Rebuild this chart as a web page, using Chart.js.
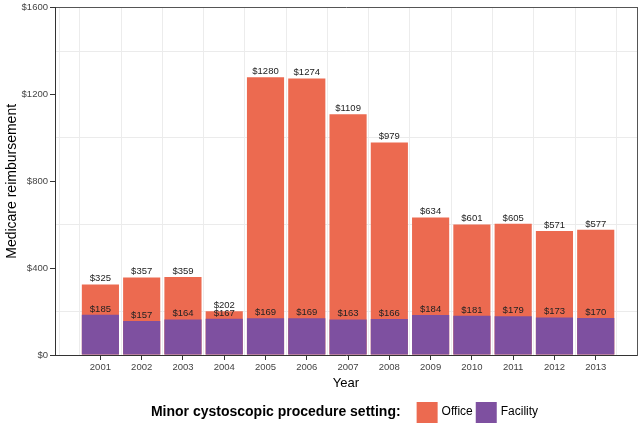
<!DOCTYPE html>
<html>
<head>
<meta charset="utf-8">
<script src="https://cdn.jsdelivr.net/npm/chart.js@4"></script>
<style>
  body { margin: 0; background: #fff; }
  #wrap { width: 640px; height: 423px; }
</style>
</head>
<body>
<div id="wrap"><canvas id="myChart" width="640" height="423"></canvas></div>
<script>
const years = [2001, 2002, 2003, 2004, 2005, 2006, 2007, 2008, 2009, 2010, 2011, 2012, 2013];
const office = [325, 357, 359, 202, 1280, 1274, 1109, 979, 634, 601, 605, 571, 577];
const facility = [185, 157, 164, 167, 169, 169, 163, 166, 184, 181, 179, 173, 170];
const yTicks = [0, 400, 800, 1200, 1600];
const legendTitle = 'Minor cystoscopic procedure setting:';

const FONT = "'Liberation Sans', Arial, sans-serif";
const officeColor = '#EC6A50';
const facilityColor = '#7E50A0';

// half-year positions for the vertical grid
const xGrid = [2000];
years.forEach(y => xGrid.push(y - 0.5));
xGrid.push(years[years.length - 1] + 0.5);

const barLabels = {
	id: 'barLabels',
	afterDatasetsDraw(chart) {
		const ctx = chart.ctx;
		ctx.save();
		ctx.font = '9.5px ' + FONT;
		ctx.fillStyle = '#222';
		ctx.textAlign = 'center';
		ctx.textBaseline = 'bottom';
		chart.data.datasets.forEach((ds, i) => {
			chart.getDatasetMeta(i).data.forEach((bar, j) => {
				ctx.fillText('$' + ds.data[j].y, bar.x, bar.y - 1);
			});
		});
		ctx.restore();
	}
};

const legendRow = {
	id: 'legendRow',
	afterDraw(chart) {
		const ctx = chart.ctx;
		const area = chart.chartArea;
		const y = 412;
		ctx.save();
		ctx.textBaseline = 'middle';
		ctx.font = 'bold 14px ' + FONT;
		const tw = ctx.measureText(legendTitle).width;
		ctx.font = '12px ' + FONT;
		const items = chart.data.datasets.map(ds => ({ label: ds.label, color: ds.backgroundColor, w: ctx.measureText(ds.label).width }));
		let total = tw + 16;
		items.forEach(it => { total += 21 + 4 + it.w + 3; });
		let x = (area.left + area.right) / 2 - total / 2;
		ctx.fillStyle = '#000';
		ctx.font = 'bold 14px ' + FONT;
		ctx.fillText(legendTitle, x, y);
		x += tw + 16;
		ctx.font = '12px ' + FONT;
		items.forEach(it => {
			ctx.fillStyle = it.color;
			ctx.fillRect(x, y - 10, 21, 21);
			x += 21 + 4;
			ctx.fillStyle = '#000';
			ctx.fillText(it.label, x, y);
			x += it.w + 3;
		});
		ctx.restore();
	}
};

new Chart(document.getElementById('myChart'), {
	type: 'bar',
	data: {
		datasets: [{
			label: 'Office',
			data: years.map((y, i) => ({ x: y, y: office[i] })),
			backgroundColor: officeColor,
			order: 2
		}, {
			label: 'Facility',
			data: years.map((y, i) => ({ x: y, y: facility[i] })),
			backgroundColor: facilityColor,
			order: 1
		}]
	},
	options: {
		responsive: false,
		animation: false,
		layout: { padding: { top: 5, right: 3, left: 0, bottom: 0 } },
		datasets: {
			bar: { grouped: false, barPercentage: 0.9, categoryPercentage: 1 }
		},
		plugins: {
			legend: { display: false },
			tooltip: { enabled: false }
		},
		scales: {
			x: {
				type: 'linear',
				position: 'bottom',
				offset: false,
				min: 1999.9,
				max: 2014.0,
				afterBuildTicks: s => { s.ticks = years.map(v => ({ value: v })); },
				afterFit: s => { s.height = 68; },
				grid: { offset: false, drawOnChartArea: false, drawTicks: true, tickLength: 5, tickColor: '#333' },
				border: { color: '#333' },
				ticks: {
					font: { family: FONT, size: 9.5 },
					color: '#444',
					padding: 2,
					maxRotation: 0,
					autoSkip: false,
					callback: v => String(v)
				},
				title: {
					display: true,
					text: 'Year',
					color: '#000',
					font: { family: FONT, size: 13 },
					padding: { top: 0, bottom: 32 }
				}
			},
			x2: {
				type: 'linear',
				position: 'top',
				offset: false,
				min: 1999.9,
				max: 2014.0,
				afterBuildTicks: s => { s.ticks = xGrid.map(v => ({ value: v })); },
				afterFit: s => { s.height = 0; },
				grid: { offset: false, color: '#ececec', drawTicks: false },
				border: { color: '#555' },
				ticks: { display: false }
			},
			y: {
				min: 0,
				max: 1600,
				afterBuildTicks: s => {
					const t = [];
					for (let v = 0; v <= 1600; v += 200) t.push({ value: v });
					s.ticks = t;
				},
				afterFit: s => { s.width = 55; },
				grid: {
					color: c => (yTicks.includes(c.tick.value) ? 'rgba(0,0,0,0)' : '#ebebeb'),
					tickColor: c => (yTicks.includes(c.tick.value) ? '#333' : 'rgba(0,0,0,0)'),
					tickLength: 5
				},
				border: { color: '#333' },
				ticks: {
					font: { family: FONT, size: 9.5 },
					color: '#444',
					padding: 2,
					callback: v => (yTicks.includes(v) ? '$' + v : '')
				},
				title: {
					display: true,
					text: 'Medicare reimbursement',
					color: '#000',
					font: { family: FONT, size: 14 },
					padding: { top: 4, bottom: 0 }
				}
			},
			y2: {
				position: 'right',
				min: 0,
				max: 1600,
				afterFit: s => { s.width = 0; },
				grid: { drawOnChartArea: false, drawTicks: false },
				border: { color: '#555' },
				ticks: { display: false }
			}
		}
	},
	plugins: [barLabels, legendRow]
});
</script>
</body>
</html>
